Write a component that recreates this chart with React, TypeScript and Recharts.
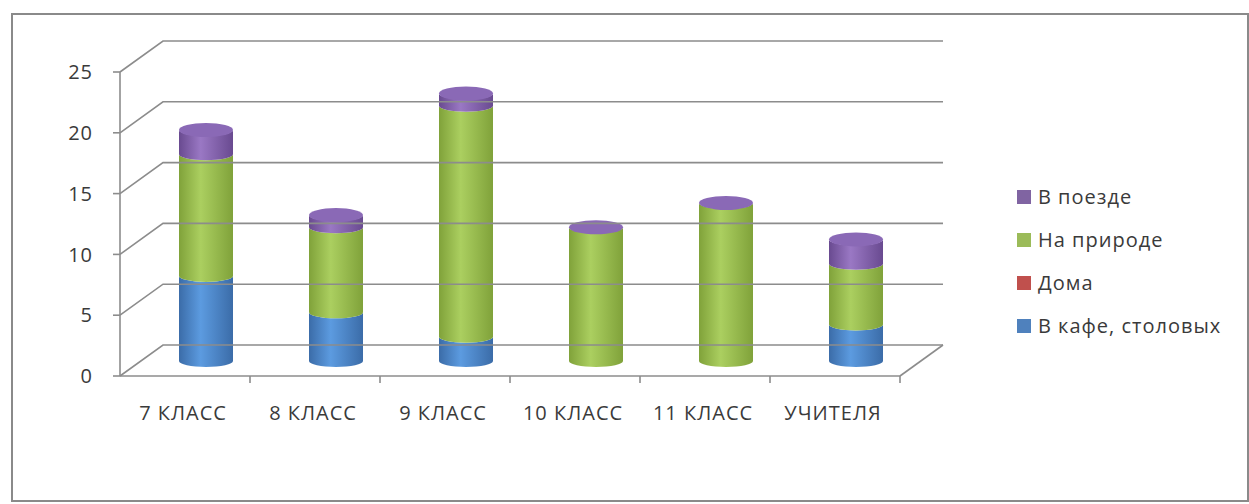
import { BarChart, Bar, XAxis, YAxis, ReferenceLine, Legend } from 'recharts';

const categories = ['7 КЛАСС', '8 КЛАСС', '9 КЛАСС', '10 КЛАСС', '11 КЛАСС', 'УЧИТЕЛЯ'];
const cafe = [7, 4, 2, 0, 0, 3];
const home = [0, 0, 0, 0, 0, 0];
const nature = [10, 7, 19, 11, 13, 5];
const train = [2, 1, 1, 0, 0, 2];
const yTicks = [0, 5, 10, 15, 20, 25];

const seriesNames = {
  cafe: 'В кафе, столовых',
  home: 'Дома',
  nature: 'На природе',
  train: 'В поезде',
};

const data = categories.map((name, i) => ({
  name,
  cafe: cafe[i],
  home: home[i],
  nature: nature[i],
  train: train[i],
}));

const FONT = '"Open Sans", sans-serif';
const TEXT = '#3a3a3a';
const LINE = '#8c8c8c';
// 3d depth offsets
const BAR_DX = 21;
const BAR_DY = -15;
const WALL_DX = 43;
const WALL_DY = -31;
const HALF_BAND = 65;

const colors = {
  cafe: { edge: '#3b6ca8', mid: '#5c9be0', key: '#4f81bd' },
  home: { edge: '#9c3b38', mid: '#d0605c', key: '#c0504d' },
  nature: { edge: '#80a23a', mid: '#abcf60', key: '#9bbb59' },
  train: { edge: '#694a90', mid: '#9a78c4', key: '#8064a2' },
};

function cylinder(key: keyof typeof colors, isTop: boolean) {
  return (props: any) => {
    const { x, y, width, height } = props;
    if (x == null || y == null) return <g />;
    const rx = width / 2;
    const ry = 6;
    const left = x + BAR_DX;
    const right = left + width;
    const top = y + BAR_DY;
    const bottom = y + height + BAR_DY;
    const cx = left + rx;
    return (
      <g>
        {height > 0 && (
          <path
            d={`M${left},${top} L${left},${bottom} A${rx},${ry} 0 0 0 ${right},${bottom} L${right},${top} A${rx},${ry} 0 0 1 ${left},${top} Z`}
            fill={`url(#grad-${key})`}
          />
        )}
        {isTop && <ellipse cx={cx} cy={top} rx={rx} ry={7} fill="#8a69b6" />}
      </g>
    );
  };
}

function backLine(props: any, isFloor: boolean) {
  const { x1, y1, x2 } = props;
  if (x1 == null) return <g />;
  return (
    <g>
      <path
        d={`M${x1},${y1} L${x1 + WALL_DX},${y1 + WALL_DY} L${x2 + WALL_DX},${y1 + WALL_DY}`}
        fill="none"
        stroke={LINE}
        strokeWidth={1.6}
      />
      {isFloor && (
        <line x1={x2} y1={y1} x2={x2 + WALL_DX} y2={y1 + WALL_DY} stroke={LINE} strokeWidth={1.6} />
      )}
    </g>
  );
}

function XTick(props: any) {
  const { x, y, payload } = props;
  return (
    <g>
      <line x1={x + HALF_BAND} y1={y - 7} x2={x + HALF_BAND} y2={y} stroke={LINE} strokeWidth={1.6} />
      <text x={x - 2} y={y + 37} textAnchor="middle" fill={TEXT} fontSize={20} letterSpacing={1} fontFamily={FONT}>
        {payload.value}
      </text>
    </g>
  );
}

function LegendBox() {
  const order: (keyof typeof colors)[] = ['train', 'nature', 'home', 'cafe'];
  return (
    <div style={{ fontFamily: FONT, fontSize: 20, letterSpacing: 1, color: TEXT }}>
      {order.map((k) => (
        <div key={k} style={{ height: 43, lineHeight: '43px', display: 'flex', alignItems: 'center', whiteSpace: 'nowrap' }}>
          <span style={{ display: 'inline-block', width: 14, height: 14, background: colors[k].key, marginRight: 7 }} />
          <span>{seriesNames[k]}</span>
        </div>
      ))}
    </div>
  );
}

export default function App() {
  return (
    <div style={{ position: 'absolute', left: 0, top: 0, width: 1249, height: 504, background: '#fff' }}>
      <svg width={0} height={0} style={{ position: 'absolute' }}>
        <defs>
          {(Object.keys(colors) as (keyof typeof colors)[]).map((k) => (
            <linearGradient key={k} id={`grad-${k}`} x1="0" y1="0" x2="1" y2="0">
              <stop offset="0" stopColor={colors[k].edge} />
              <stop offset="0.4" stopColor={colors[k].mid} />
              <stop offset="1" stopColor={colors[k].edge} />
            </linearGradient>
          ))}
        </defs>
      </svg>
      <div
        style={{
          position: 'absolute',
          left: 11,
          top: 13,
          width: 1234,
          height: 485,
          border: '2px solid #8a8a8a',
        }}
      />
      <div style={{ position: 'absolute', left: 0, top: 0 }}>
        <BarChart
          width={1249}
          height={504}
          data={data}
          margin={{ top: 72, right: 349, bottom: 0, left: 0 }}
          barSize={54}
        >
          <XAxis
            dataKey="name"
            height={128}
            axisLine={{ stroke: LINE, strokeWidth: 1.6 }}
            tickLine={false}
            tickSize={7}
            tickMargin={0}
            interval={0}
            tick={<XTick />}
          />
          <YAxis
            width={120}
            domain={[0, 25]}
            ticks={yTicks}
            axisLine={{ stroke: LINE, strokeWidth: 1.6 }}
            tickLine={{ stroke: LINE, strokeWidth: 1.6 }}
            tickSize={7}
            tickMargin={20}
            tick={{ fill: TEXT, fontSize: 20, fontFamily: FONT, letterSpacing: 1 }}
          />
          {yTicks.map((t) => (
            <ReferenceLine key={t} y={t} stroke={LINE} shape={(p: any) => backLine(p, t === 0)} />
          ))}
          <Legend
            layout="vertical"
            align="center"
            verticalAlign="middle"
            content={<LegendBox />}
            wrapperStyle={{ left: 1017, top: 175, width: 230 }}
          />
          <Bar dataKey="cafe" name={seriesNames.cafe} stackId="a" fill={colors.cafe.key} isAnimationActive={false} shape={cylinder('cafe', false)} />
          <Bar dataKey="home" name={seriesNames.home} stackId="a" fill={colors.home.key} isAnimationActive={false} shape={cylinder('home', false)} />
          <Bar dataKey="nature" name={seriesNames.nature} stackId="a" fill={colors.nature.key} isAnimationActive={false} shape={cylinder('nature', false)} />
          <Bar dataKey="train" name={seriesNames.train} stackId="a" fill={colors.train.key} isAnimationActive={false} shape={cylinder('train', true)} />
        </BarChart>
      </div>
    </div>
  );
}
